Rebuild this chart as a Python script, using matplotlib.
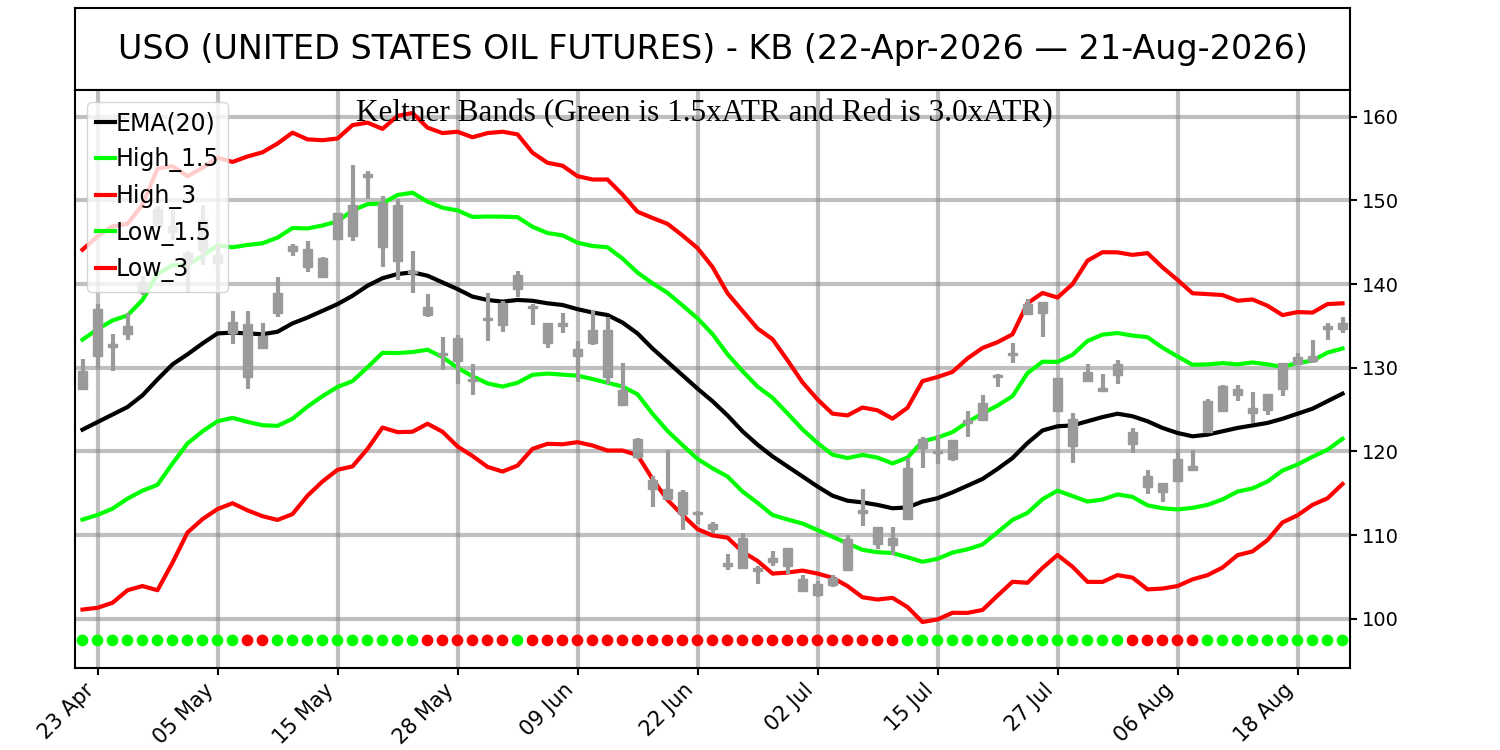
import matplotlib
matplotlib.use("Agg")
import numpy as np
import matplotlib.pyplot as plt

# ---- data (one value per trading day, 22-Apr-2026 .. 21-Aug-2026) ----
tick_labels = ['23 Apr', '05 May', '15 May', '28 May', '09 Jun', '22 Jun',
               '02 Jul', '15 Jul', '27 Jul', '06 Aug', '18 Aug']

opens = [127.4, 131.4, 132.8, 134.0, 139.0, 147.0, 147.0, 143.7, 144.1, 143.5,
         135.5, 135.2, 132.4, 136.6, 144.0, 144.15, 143.1, 145.4, 145.8, 152.8,
         149.7, 149.5, 141.6, 137.3, 131.8, 130.8, 128.7, 135.7, 135.1, 139.4,
         137.4, 135.3, 135.0, 132.2, 132.9, 134.5, 127.3, 121.5, 116.6, 115.55,
         115.15, 112.8, 111.3, 106.6, 106.1, 106.1, 106.8, 106.3, 104.8, 104.2,
         104.0, 105.8, 112.6, 111.0, 109.6, 111.95, 120.4, 120.1, 119.05, 123.4,
         123.7, 128.85, 131.5, 136.4, 136.6, 128.8, 123.9, 128.4, 127.6, 129.15,
         122.3, 117.1, 116.2, 116.5, 117.8, 122.35, 124.8, 126.75, 125.2, 125.0,
         127.5, 130.4, 130.8, 134.6, 134.6]
highs = [131.0, 137.6, 134.0, 136.55, 141.0, 149.3, 148.9, 143.9, 149.5, 144.7,
         136.75, 136.8, 135.3, 140.9, 144.8, 145.2, 143.2, 148.5, 154.2, 153.5,
         150.5, 150.2, 144.0, 138.8, 133.7, 133.9, 130.4, 138.9, 138.0, 141.55,
         137.6, 135.3, 136.6, 133.2, 136.9, 136.05, 130.6, 121.6, 117.0, 120.2,
         115.35, 112.9, 111.6, 107.75, 110.2, 106.3, 108.1, 108.4, 105.2, 104.45,
         105.2, 110.0, 115.55, 111.0, 111.0, 119.2, 121.7, 122.0, 121.4, 124.8,
         126.75, 129.3, 133.0, 138.2, 137.9, 128.8, 124.6, 130.4, 129.3, 130.95,
         122.85, 117.8, 116.2, 119.9, 120.2, 126.25, 127.9, 127.9, 127.1, 126.9,
         130.6, 131.8, 133.3, 135.3, 136.05]
lows = [127.3, 130.0, 129.6, 133.3, 138.7, 146.7, 145.3, 138.9, 142.3, 139.3,
        132.8, 127.5, 132.35, 136.05, 143.3, 141.5, 140.75, 145.4, 145.1, 150.2,
        142.1, 140.45, 138.9, 136.1, 129.75, 128.0, 126.7, 133.25, 134.3, 138.4,
        135.1, 132.4, 134.15, 128.3, 132.75, 128.0, 125.5, 119.1, 113.4, 114.3,
        110.6, 111.35, 110.2, 105.8, 106.0, 104.2, 106.3, 105.3, 103.3, 102.6,
        103.8, 105.8, 111.1, 108.35, 107.65, 111.9, 118.0, 118.5, 118.9, 121.7,
        123.6, 127.7, 130.6, 136.25, 133.7, 124.8, 118.65, 128.3, 127.2, 128.1,
        119.75, 114.9, 114.0, 116.5, 117.8, 122.2, 124.7, 126.05, 123.4, 124.3,
        126.6, 130.4, 130.6, 133.3, 134.1]
closes = [129.55, 137.0, 132.5, 135.0, 140.3, 149.0, 146.2, 142.5, 147.7, 142.5,
          134.1, 128.9, 133.75, 138.9, 144.6, 142.1, 140.9, 148.5, 149.5, 153.1,
          144.4, 142.7, 141.3, 136.25, 131.5, 133.5, 128.4, 136.0, 137.7, 141.1,
          137.1, 133.0, 135.3, 131.4, 134.5, 128.9, 125.6, 119.3, 115.55, 114.3,
          112.5, 112.5, 110.7, 106.3, 109.6, 105.7, 107.2, 108.4, 103.3, 102.8,
          104.9, 109.5, 113.05, 108.9, 108.8, 118.0, 121.5, 119.8, 121.4, 123.7,
          125.8, 129.15, 131.8, 137.65, 137.9, 124.8, 120.7, 129.5, 127.2, 130.4,
          120.9, 115.8, 115.1, 119.05, 118.2, 126.05, 127.8, 127.4, 124.6, 126.9,
          130.6, 131.3, 131.4, 135.0, 135.4]

ema20 = [122.6, 123.5, 124.4, 125.3, 126.7, 128.6, 130.4, 131.6, 132.9, 134.1,
         134.2, 134.1, 134.0, 134.3, 135.3, 136.0, 136.8, 137.6, 138.6, 139.8,
         140.7, 141.2, 141.4, 141.0, 140.2, 139.4, 138.5, 138.1, 137.9, 138.1,
         138.0, 137.7, 137.5, 137.0, 136.6, 136.3, 135.4, 134.1, 132.3, 130.7,
         129.1, 127.5, 126.0, 124.3, 122.4, 120.8, 119.4, 118.2, 117.0, 115.8,
         114.7, 114.1, 113.9, 113.6, 113.2, 113.3, 114.0, 114.4, 115.1, 115.9,
         116.7, 117.9, 119.2, 121.0, 122.5, 123.0, 123.1, 123.6, 124.1, 124.5,
         124.2, 123.6, 122.8, 122.2, 121.8, 122.0, 122.4, 122.8, 123.1, 123.4,
         123.9, 124.5, 125.1, 126.0, 126.9]
atr = [7.17, 7.4, 7.5, 7.3, 7.6, 8.4, 7.9, 7.1, 7.0, 7.0,
       6.8, 7.05, 7.25, 7.5, 7.6, 7.1, 6.8, 6.6, 6.8, 6.5,
       5.95, 6.3, 6.35, 5.9, 5.95, 6.27, 6.35, 6.65, 6.77, 6.6,
       5.9, 5.6, 5.55, 5.3, 5.3, 5.4, 5.1, 4.85, 5.2, 5.5,
       5.57, 5.6, 5.35, 4.87, 4.8, 4.63, 4.67, 4.23, 3.75, 3.47,
       3.27, 3.4, 3.78, 3.77, 3.57, 3.97, 4.8, 4.83, 4.8, 5.07,
       5.22, 5.05, 4.93, 5.57, 5.48, 5.13, 5.63, 6.4, 6.57, 6.43,
       6.43, 6.7, 6.4, 6.1, 5.7, 5.6, 5.43, 5.07, 5.02, 4.67,
       4.13, 4.05, 3.83, 3.87, 3.6]

# 'G' = green dot, 'R' = red dot under each bar
signal = ('GGGGGGGGGGGRRGGGGGGGGGGRRRRRRGRRRRRRRRRRRRRRRRRRRRRRRRR'
          'GGGGGGGGGGGGGGGRRRRRGGGGGGGGGG')
dot_level = 97.4

# ---- keltner bands ----
ema = np.array(ema20)
rng = np.array(atr)
high_15 = ema + 1.5 * rng
low_15 = ema - 1.5 * rng
high_3 = ema + 3.0 * rng
low_3 = ema - 3.0 * rng

x = np.arange(len(closes))
o = np.array(opens)
c = np.array(closes)

fig = plt.figure(figsize=(15, 7.5), dpi=100)

# title box
ax_t = fig.add_axes([0.05, 0.88, 0.85, 0.1093])
ax_t.set_xticks([])
ax_t.set_yticks([])
for s in ax_t.spines.values():
    s.set_linewidth(1.5)
ax_t.text(0.5, 0.5, 'USO (UNITED STATES OIL FUTURES) - KB (22-Apr-2026 \u2014 21-Aug-2026)',
          ha='center', va='center', fontsize=24, transform=ax_t.transAxes)

ax = fig.add_axes([0.05, 0.1093, 0.85, 0.7707])
ax.set_axisbelow(True)
ax.grid(True, color='gray', alpha=0.5, linewidth=3)

ax.plot(x, ema, color='black', lw=3, label='EMA(20)', zorder=2)
ax.plot(x, high_15, color='lime', lw=3, label='High_1.5', zorder=2)
ax.plot(x, high_3, color='red', lw=3, label='High_3', zorder=2)
ax.plot(x, low_15, color='lime', lw=3, label='Low_1.5', zorder=2)
ax.plot(x, low_3, color='red', lw=3, label='Low_3', zorder=2)

# candles, all gray
candle_col = '#9a9a9a'
ax.vlines(x, lows, highs, color=candle_col, lw=3, zorder=3)
ax.bar(x, np.abs(c - o), bottom=np.minimum(o, c), width=0.65, color=candle_col,
       edgecolor=candle_col, linewidth=1, zorder=3)

dot_cols = ['lime' if s == 'G' else 'red' for s in signal]
ax.scatter(x, [dot_level] * len(x), c=dot_cols, s=55, zorder=3)

ax.set_xlim(-0.5, len(x) - 0.5)
ax.set_ylim(94.1, 163.2)
ax.yaxis.tick_right()
ax.set_yticks(range(100, 161, 10))
ax.set_xticks(range(1, len(x), 8))
ax.set_xticklabels(tick_labels, rotation=45, ha='right')
ax.tick_params(labelsize=14, width=1.5, length=5)
ax.tick_params(axis='x', labelsize=15)
for s in ax.spines.values():
    s.set_linewidth(1.5)

ax.text(0.494, 0.984, 'Keltner Bands (Green is 1.5xATR and Red is 3.0xATR)',
        ha='center', va='top', fontsize=22.5, family='Liberation Serif',
        transform=ax.transAxes, zorder=5)

ax.legend(loc='upper left', fontsize=17, handlelength=0.8, handletextpad=0.0)

fig.savefig('out.png', dpi=100)
